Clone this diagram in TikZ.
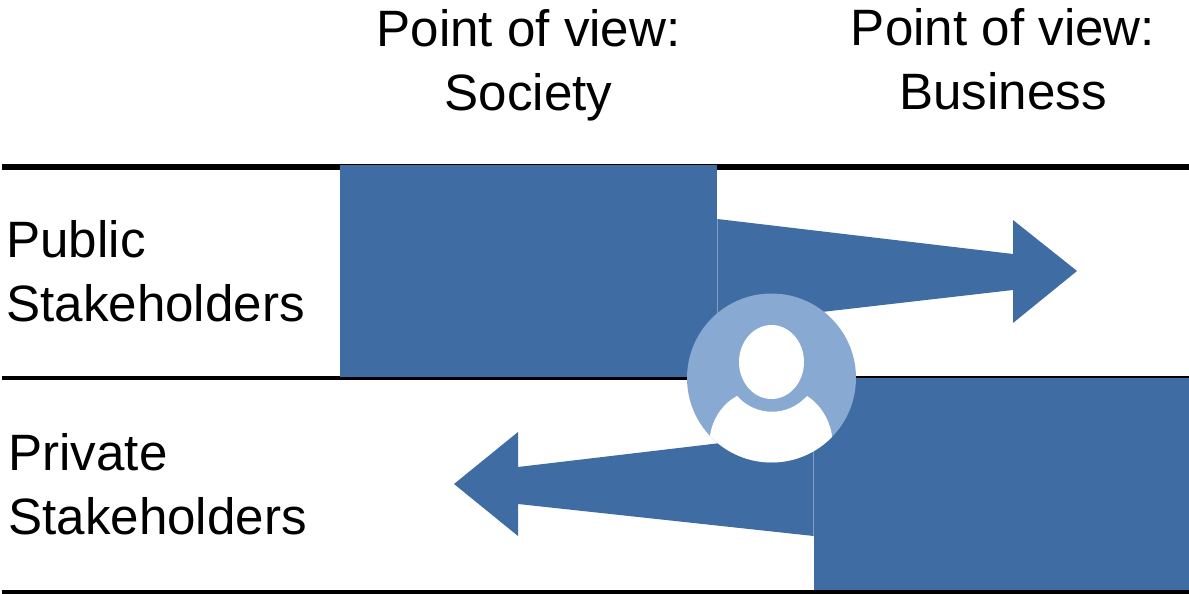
\documentclass[tikz,border=0pt]{standalone}
\usepackage{fontspec}
\usetikzlibrary{shapes.geometric}
\setmainfont{Liberation Sans}
\definecolor{barblue}{HTML}{3F6CA3}
\definecolor{discblue}{HTML}{88A9D2}
\definecolor{seamblue}{HTML}{7F9FC6}

\begin{document}
\begin{tikzpicture}[x=0.02cm,y=-0.02cm]
            \tikzstyle{label} = [font=\fontsize{29.1}{36.6}\selectfont, inner sep=0pt, align=left, text=black]
            \tikzstyle{heading} = [font=\fontsize{29.1}{36.6}\selectfont, inner sep=0pt, align=center, text=black]
            \tikzstyle{bar} = [rectangle, fill=barblue, inner sep=0pt, minimum width=7.54cm, minimum height=4.26cm]
            \tikzstyle{rule} = [black, line width=2.4pt]
            \tikzstyle{wedge} = [fill=barblue]
            \useasboundingbox (0,0) rectangle (1189,594);

            % Rules
            \coordinate (topleft) at (2,167);
            \coordinate (topright) at (1189,167);
            \coordinate (midleft) at (2,378);
            \coordinate (midright) at (1189,378);
            \coordinate (lowleft) at (2,592);
            \coordinate (lowright) at (1189,592);
            \draw [rule, line width=3.2pt] (topleft) -- (topright);
            \draw [rule] (midleft) -- (midright);
            \draw [rule] (lowleft) -- (lowright);

            % Nodes
            \node (society) [heading] at (528.5,65) {Point of view:\\Society};
            \node (business) [heading] at (1003,59) {Point of view:\\Business};
            \node (public) [label, anchor=west] at (6,271.5) {Public\\Stakeholders};
            \node (private) [label, anchor=west] at (8,484.5) {Private\\Stakeholders};
            \node (publicbar) [bar] at (528.5,271) {};
            \node (privatebar) [bar] at (1002.5,484) {};

            % Arrows
            \fill [wedge] (publicbar.east |- 0,219) -- (1013,254) -- (1013,220) -- (1077,271) -- (1013,323) -- (1013,290) -- (publicbar.east |- 0,324) -- cycle;
            \fill [wedge] (privatebar.west |- 0,432) -- (518,467) -- (518,432) -- (454,484) -- (518,536) -- (518,504) -- (privatebar.west |- 0,536) -- cycle;
            \draw [seamblue, line width=0.4pt] (publicbar.east |- 0,219) -- (publicbar.east |- 0,324);
            \draw [seamblue, line width=0.4pt] (privatebar.west |- 0,432) -- (privatebar.west |- 0,536);

            % Person
            \node (disc) [circle, fill=discblue, inner sep=0pt, minimum size=3.38cm] at (771.5,378) {};
            \node (head) [ellipse, fill=white, inner sep=0pt, minimum width=1.3cm, minimum height=1.48cm] at (771.5,362) {};
            \begin{scope}
                \clip (771.5,378) circle [radius=1.69cm];
                \fill [white] (737,396) .. controls (756,417) and (788,417) .. (807,396) .. controls (820,404) and (830,420) .. (832,436) -- (832,470) -- (710,470) -- (710,436) .. controls (712,420) and (722,404) .. (737,396) -- cycle;
            \end{scope}
        \end{tikzpicture}
\end{document}
